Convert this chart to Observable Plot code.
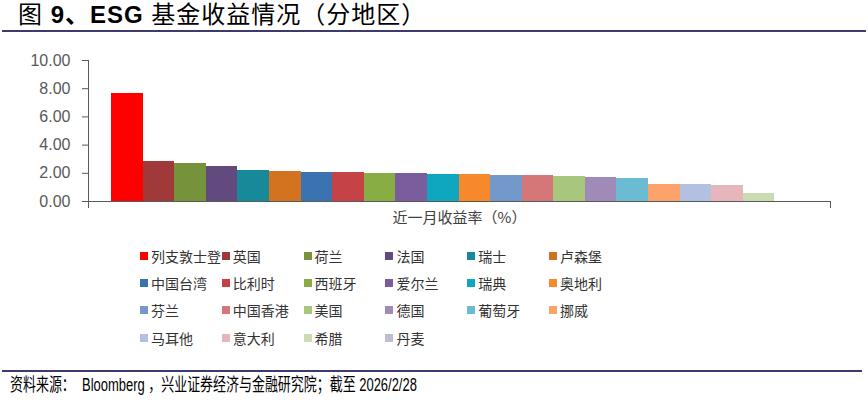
<!DOCTYPE html>
<html>
<head>
<meta charset="utf-8">
<script src="https://cdn.jsdelivr.net/npm/d3@7"></script>
<script src="https://cdn.jsdelivr.net/npm/@observablehq/plot@0.6"></script>
<style>
  html, body { margin: 0; padding: 0; background: #fff; }
  #page { position: relative; width: 868px; height: 400px; overflow: hidden; font-family: "Liberation Sans", "Noto Sans CJK SC", sans-serif; }
  #title { position: absolute; left: 18px; top: 0px; font-size: 24px; letter-spacing: 1px; line-height: 30px; color: #000; font-family: "Liberation Sans", "Noto Sans CJK SC", sans-serif; white-space: nowrap; }
  #title b { font-weight: bold; }
  .rule { position: absolute; height: 2px; background: #3d3a6f; }
  #chart { position: absolute; left: 0; top: 45px; }
  #legend { position: absolute; left: 140px; top: 246px; }
  .item { position: absolute; display: flex; align-items: center; white-space: nowrap; font-family: "Noto Sans CJK SC", sans-serif; font-size: 14px; color: #333; height: 20px; }
  .sw { width: 8px; height: 8px; margin-right: 3px; flex: none; }
  #footer { position: absolute; left: 10px; top: 373px; font-size: 18px; line-height: 24px; color: #000; white-space: nowrap; transform: scaleX(0.72); transform-origin: left center; font-family: "Liberation Sans Narrow", "Liberation Sans", "Noto Sans CJK SC", sans-serif; }
</style>
</head>
<body>
<div id="page">
  <div id="title">图 <b>9、ESG</b> 基金收益情况（分地区）</div>
  <div class="rule" style="left:2px; width:864px; top:30px;"></div>
  <div id="chart"></div>
  <div id="legend"></div>
  <div class="rule" style="left:2px; width:860px; top:370px;"></div>
  <div id="footer">资料来源：&nbsp; Bloomberg ，兴业证券经济与金融研究院；截至 2026/2/28</div>
</div>
<script>
const regions = ["列支敦士登","英国","荷兰","法国","瑞士","卢森堡","中国台湾","比利时","西班牙","爱尔兰","瑞典","奥地利","芬兰","中国香港","美国","德国","葡萄牙","挪威","马耳他","意大利","希腊","丹麦"];
const returns = [7.69, 2.85, 2.68, 2.45, 2.17, 2.10, 2.09, 2.05, 2.00, 1.99, 1.89, 1.88, 1.87, 1.84, 1.79, 1.70, 1.63, 1.20, 1.18, 1.10, 0.54, 0.03];
const colors = ["#ff0000","#a0393a","#76933c","#624a7e","#178a99","#d4731f","#3a73b0","#c54347","#88ad45","#7b5c9c","#0fa7bf","#f7882b","#7398ca","#d57778","#a8c67c","#a08ab8","#6bbcd2","#fca36b","#b2c1e2","#e6b6bc","#cadbb2","#c0bdd0"];
const yTicks = [0, 2, 4, 6, 8, 10];
const xLabel = "近一月收益率（%）";

const data = regions.map((r, i) => ({region: r, value: returns[i]}));

const chart = Plot.plot({
  width: 868,
  height: 190,
  marginLeft: 88,
  marginRight: 38,
  marginTop: 15,
  marginBottom: 34,
  style: {fontFamily: "Liberation Sans, Noto Sans CJK SC, sans-serif", background: "#fff"},
  x: {type: "band", domain: regions, padding: 0, round: false, insetLeft: 23, insetRight: 24, axis: null},
  y: {domain: [0, 10], axis: null},
  color: {domain: regions, range: colors},
  marks: [
    Plot.barY(data, {x: "region", y: "value", fill: "region", inset: 0, shapeRendering: "crispEdges"}),
    Plot.axisY({ticks: yTicks, tickFormat: d3.format(".2f"), tickSize: 6, tickPadding: 12, fontSize: 16, color: "#595959", stroke: "#595959", label: null}),
    Plot.frame({anchor: "left", stroke: "#595959", insetBottom: -6}),
    Plot.frame({anchor: "bottom", stroke: "#595959"}),
    Plot.frame({anchor: "right", stroke: "#595959", insetTop: 141, insetBottom: -6}),
    Plot.text([xLabel], {frameAnchor: "bottom", dy: 21, fontSize: 15, fill: "#404040", fontFamily: "Noto Sans CJK SC, sans-serif"})
  ]
});
document.getElementById("chart").appendChild(chart);

const legend = document.getElementById("legend");
regions.forEach((r, i) => {
  const col = i % 6, row = Math.floor(i / 6);
  const it = document.createElement("div");
  it.className = "item";
  it.style.left = (col * 81.8) + "px";
  it.style.top = (row * 27.2) + "px";
  const sw = document.createElement("span");
  sw.className = "sw";
  sw.style.background = colors[i];
  const tx = document.createElement("span");
  tx.textContent = r;
  it.appendChild(sw);
  it.appendChild(tx);
  legend.appendChild(it);
});
</script>
</body>
</html>
